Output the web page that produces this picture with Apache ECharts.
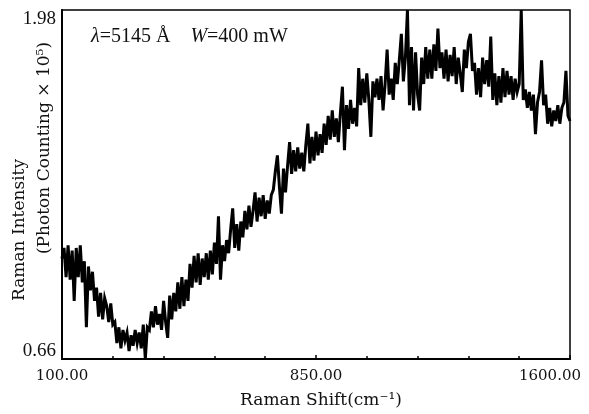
<!DOCTYPE html>
<html>
<head>
<meta charset="utf-8">
<script src="https://cdn.jsdelivr.net/npm/echarts@6/dist/echarts.min.js"></script>
<style>
  html, body { margin: 0; padding: 0; background: #fff; }
  #chart { width: 589px; height: 414px; }
</style>
</head>
<body>
<div id="chart"></div>
<script>
// Raman spectrum (cm^-1 grid from 100 to 1600, step 6)
const SHIFT_START = 100;
const SHIFT_STEP = 6;
const xTicks = [100, 850, 1600];
const yTicks = [0.66, 1.98];

const intensity = [
  1.04, 1.08, 0.97, 1.09, 0.96, 1.07, 0.88, 1.08, 0.97, 1.09,
  0.95, 1.03, 0.78, 1.01, 0.92, 0.99, 0.88, 0.93, 0.82, 0.91,
  0.81, 0.89, 0.86, 0.80, 0.87, 0.79, 0.80, 0.72, 0.78, 0.70,
  0.77, 0.73, 0.76, 0.69, 0.75, 0.71, 0.77, 0.72, 0.76, 0.70,
  0.79, 0.66, 0.78, 0.77, 0.84, 0.78, 0.86, 0.79, 0.83, 0.77,
  0.88, 0.80, 0.74, 0.90, 0.81, 0.91, 0.84, 0.95, 0.85, 0.97,
  0.86, 0.96, 0.88, 1.02, 0.93, 1.05, 0.95, 1.06, 0.94, 1.04,
  0.97, 1.06, 0.96, 1.07, 0.98, 1.10, 1.02, 1.20, 0.96, 1.09,
  1.03, 1.11, 1.06, 1.15, 1.23, 1.08, 1.17, 1.07, 1.18, 1.12,
  1.22, 1.15, 1.24, 1.16, 1.22, 1.29, 1.18, 1.27, 1.20, 1.28,
  1.19, 1.26, 1.21, 1.28, 1.30, 1.37, 1.43, 1.31, 1.21, 1.38,
  1.29, 1.39, 1.48, 1.36, 1.45, 1.37, 1.46, 1.38, 1.44, 1.37,
  1.47, 1.55, 1.40, 1.50, 1.41, 1.52, 1.43, 1.51, 1.44, 1.55,
  1.47, 1.58, 1.49, 1.60, 1.50, 1.57, 1.48, 1.59, 1.69, 1.45,
  1.62, 1.53, 1.64, 1.55, 1.61, 1.54, 1.76, 1.62, 1.72, 1.63,
  1.74, 1.64, 1.50, 1.71, 1.65, 1.72, 1.64, 1.73, 1.60, 1.70,
  1.83, 1.66, 1.72, 1.64, 1.78, 1.70, 1.79, 1.89, 1.71, 1.80,
  1.98, 1.62, 1.84, 1.60, 1.82, 1.66, 1.60, 1.80, 1.70, 1.84,
  1.72, 1.83, 1.72, 1.85, 1.75, 1.91, 1.76, 1.82, 1.72, 1.83,
  1.71, 1.81, 1.73, 1.84, 1.70, 1.80, 1.74, 1.67, 1.83, 1.76,
  1.86, 1.89, 1.75, 1.78, 1.66, 1.76, 1.65, 1.80, 1.70, 1.79,
  1.69, 1.88, 1.64, 1.74, 1.62, 1.73, 1.63, 1.76, 1.65, 1.75,
  1.66, 1.73, 1.64, 1.72, 1.67, 1.70, 1.98, 1.64, 1.68, 1.61,
  1.67, 1.60, 1.66, 1.51, 1.63, 1.67, 1.79, 1.62, 1.66, 1.55,
  1.61, 1.54, 1.60, 1.56, 1.62, 1.55, 1.61, 1.63, 1.75, 1.58,
  1.56
];

const shifts = intensity.map((_, i) => SHIFT_START + i * SHIFT_STEP);
const points = intensity.map((v, i) => [shifts[i], v]);

const chart = echarts.init(document.getElementById('chart'), null, { renderer: 'canvas' });

const option = {
  animation: false,
  backgroundColor: '#fff',
  grid: {
    left: 62,
    right: 19,
    top: 10,
    bottom: 55,
    show: true,
    borderColor: '#000',
    borderWidth: 1.5,
    containLabel: false
  },
  xAxis: {
    type: 'value',
    min: xTicks[0],
    max: xTicks[2],
    interval: xTicks[1] - xTicks[0],
    name: 'Raman Shift(cm⁻¹)',
    nameLocation: 'middle',
    nameGap: 33,
    nameTextStyle: {
      fontFamily: 'DejaVu Serif',
      fontSize: 17,
      color: '#111',
      padding: [0, 0, 0, 10]
    },
    axisLine: { show: true, onZero: false, lineStyle: { color: '#000', width: 2 } },
    axisTick: { show: true, inside: true, length: 4, lineStyle: { color: '#000', width: 1.5 } },
    minorTick: { show: true, splitNumber: 5, length: 3, lineStyle: { color: '#000', width: 1.5 } },
    splitLine: { show: false },
    axisLabel: {
      margin: 10,
      color: '#111',
      fontFamily: 'DejaVu Serif',
      fontSize: 15,
      formatter: function (v) {
        if (v === xTicks[2]) return '{r|' + v.toFixed(2) + '}';
        return v.toFixed(2);
      },
      rich: {
        r: { fontFamily: 'DejaVu Serif', fontSize: 15, color: '#111', padding: [0, 40, 0, 0] }
      }
    }
  },
  yAxis: {
    type: 'value',
    min: yTicks[0],
    max: yTicks[1],
    interval: yTicks[0],
    axisLine: { show: true, onZero: false, lineStyle: { color: '#000', width: 2 } },
    axisTick: { show: false },
    splitLine: { show: false },
    axisLabel: {
      margin: 6,
      color: '#111',
      formatter: function (v) {
        if (Math.abs(v - yTicks[0]) < 1e-6) return '{b|' + yTicks[0].toFixed(2) + '}';
        if (Math.abs(v - yTicks[1]) < 1e-6) return '{t|' + yTicks[1].toFixed(2) + '}';
        return '';
      },
      rich: {
        t: { fontFamily: 'Liberation Serif', fontSize: 19, color: '#111', padding: [18, 0, 0, 0] },
        b: { fontFamily: 'Liberation Serif', fontSize: 19, color: '#111', padding: [0, 0, 16, 0] }
      }
    }
  },
  graphic: [
    {
      type: 'text',
      x: 20,
      y: 230,
      rotation: Math.PI / 2,
      style: {
        text: 'Raman Intensity',
        font: '17px "DejaVu Serif"',
        fill: '#111',
        align: 'center',
        verticalAlign: 'middle'
      }
    },
    {
      type: 'text',
      x: 45,
      y: 148,
      rotation: Math.PI / 2,
      style: {
        text: '(Photon Counting × 10⁵)',
        font: '17px "DejaVu Serif"',
        fill: '#111',
        align: 'center',
        verticalAlign: 'middle'
      }
    },
    {
      type: 'text',
      left: 91,
      top: 27,
      style: {
        text: '{i|λ}=5145 Å    {i|W}=400 mW',
        font: '20px "Liberation Serif"',
        fill: '#111',
        rich: {
          i: { fontFamily: 'Liberation Serif', fontStyle: 'italic', fontSize: 20, fill: '#111' }
        }
      }
    }
  ],
  series: [
    {
      type: 'line',
      data: points,
      showSymbol: false,
      smooth: false,
      lineStyle: { color: '#000', width: 3, join: 'miter', miterLimit: 6 },
      clip: true
    }
  ]
};

chart.setOption(option);
</script>
</body>
</html>
